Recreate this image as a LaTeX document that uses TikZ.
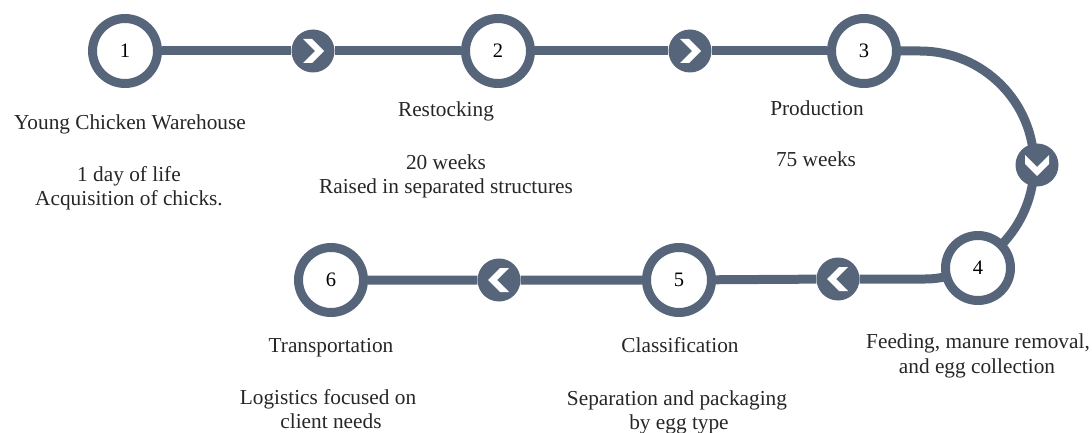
\documentclass[tikz,border=0pt]{standalone}
\usepackage{fontspec}
\setmainfont{Liberation Serif}
\usetikzlibrary{backgrounds}
\definecolor{slate}{RGB}{86,101,122}
\tikzset{
  stepcircle/.style={circle, draw=slate, line width=9pt, fill=white, minimum size=65pt, inner sep=0pt, font=\fontsize{20.5}{24}\selectfont},
  marker/.style={circle, fill=slate, minimum size=43pt, inner sep=0pt},
  conn/.style={draw=slate, line width=9pt},
  lbl/.style={anchor=base, inner sep=0pt, font=\fontsize{21.3}{25}\selectfont, text=black!85}
}
\newcommand{\chevR}[1]{\fill[white,shift={(#1)}] (-10,-12) -- (-1,-12) -- (11,0) -- (-1,12) -- (-10,12) -- (2,0) -- cycle;}
\newcommand{\chevL}[1]{\fill[white,shift={(#1)}] (10,-12) -- (1,-12) -- (-11,0) -- (1,12) -- (10,12) -- (-2,0) -- cycle;}
\newcommand{\chevD}[1]{\fill[white,shift={(#1)}] (-12,-10) -- (-12,-1) -- (0,11) -- (12,-1) -- (12,-10) -- (0,2) -- cycle;}
\begin{document}
\begin{tikzpicture}[x=1pt,y=-1pt]
\useasboundingbox (0,0) rectangle (1092,433);
% step circles
\node[stepcircle] (s1) at (125,51) {1};
\node[stepcircle] (s2) at (498,51) {2};
\node[stepcircle] (s3) at (864,51) {3};
\node[stepcircle] (s4) at (978,268) {4};
\node[stepcircle] (s5) at (679,280) {5};
\node[stepcircle] (s6) at (331,280) {6};
% markers
\node[marker] (m1) at (313,51) {};
\node[marker] (m2) at (690,51) {};
\node[marker] (m3) at (1037,165) {};
\node[marker] (m4) at (838,279) {};
\node[marker] (m5) at (499,280) {};
\chevR{m1}
\chevR{m2}
\chevD{m3}
\chevL{m4}
\chevL{m5}
\coordinate (a0) at (920,51);
\coordinate (b0) at (925,279);
\begin{pgfonlayer}{background}
\path[conn] (s1) -- (m1) -- (s2) -- (m2) -- (s3);
\path[conn] (s3.center) -- (a0) arc[start angle=-90, end angle=45, radius=114];
\path[conn] (s4.center) .. controls (950,276) and (940,279) .. (b0) -- (m4) -- (s5) -- (m5) -- (s6);
\end{pgfonlayer}
% labels
\node[lbl] (t1a) at (130,130) {Young Chicken Warehouse};
\node[lbl] (t1b) at (129,181) {1 day of life};
\node[lbl] (t1c) at (129,205) {Acquisition of chicks.};
\node[lbl] (t2a) at (446,117) {Restocking};
\node[lbl] (t2b) at (446,169) {20 weeks};
\node[lbl] (t2c) at (446,193) {Raised in separated structures};
\node[lbl] (t3a) at (817,116) {Production};
\node[lbl] (t3b) at (816,166) {75 weeks};
\node[lbl] (t4a) at (978,348) {Feeding, manure removal,};
\node[lbl] (t4b) at (977,373) {and egg collection};
\node[lbl] (t5a) at (680,352) {Classification};
\node[lbl] (t5b) at (677,405) {Separation and packaging};
\node[lbl] (t5c) at (679,429) {by egg type};
\node[lbl] (t6a) at (331,352) {Transportation};
\node[lbl] (t6b) at (328,404) {Logistics focused on};
\node[lbl] (t6c) at (331,428) {client needs};
\end{tikzpicture}
\end{document}
